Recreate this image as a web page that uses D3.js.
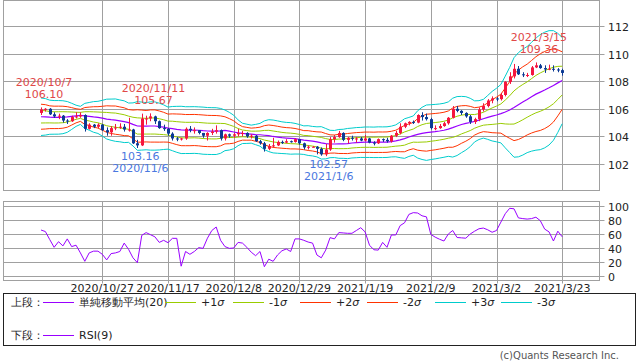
<!DOCTYPE html>
<html><head><meta charset="utf-8">
<script src="https://cdn.jsdelivr.net/npm/d3@7"></script>
<style>body{margin:0;background:#fff;} svg{display:block;font-family:"DejaVu Sans",Verdana,sans-serif;}</style>
</head><body><svg id="c" width="638" height="362"></svg>
<script>
const dates = ["2020/10/7","2020/10/8","2020/10/9","2020/10/12","2020/10/13","2020/10/14","2020/10/15","2020/10/16","2020/10/19","2020/10/20","2020/10/21","2020/10/22","2020/10/23","2020/10/26","2020/10/27","2020/10/28","2020/10/29","2020/10/30",
"2020/11/2","2020/11/3","2020/11/4","2020/11/5","2020/11/6","2020/11/9","2020/11/10","2020/11/11","2020/11/12","2020/11/13","2020/11/16","2020/11/17","2020/11/18","2020/11/19","2020/11/20","2020/11/23","2020/11/24","2020/11/25","2020/11/26","2020/11/27","2020/11/30",
"2020/12/1","2020/12/2","2020/12/3","2020/12/4","2020/12/7","2020/12/8","2020/12/9","2020/12/10","2020/12/11","2020/12/14","2020/12/15","2020/12/16","2020/12/17","2020/12/18","2020/12/21","2020/12/22","2020/12/23","2020/12/24","2020/12/25","2020/12/28","2020/12/29","2020/12/30","2020/12/31",
"2021/1/1","2021/1/4","2021/1/5","2021/1/6","2021/1/7","2021/1/8","2021/1/11","2021/1/12","2021/1/13","2021/1/14","2021/1/15","2021/1/18","2021/1/19","2021/1/20","2021/1/21","2021/1/22","2021/1/25","2021/1/26","2021/1/27","2021/1/28","2021/1/29",
"2021/2/1","2021/2/2","2021/2/3","2021/2/4","2021/2/5","2021/2/8","2021/2/9","2021/2/10","2021/2/11","2021/2/12","2021/2/15","2021/2/16","2021/2/17","2021/2/18","2021/2/19","2021/2/22","2021/2/23","2021/2/24","2021/2/25","2021/2/26",
"2021/3/1","2021/3/2","2021/3/3","2021/3/4","2021/3/5","2021/3/8","2021/3/9","2021/3/10","2021/3/11","2021/3/12","2021/3/15","2021/3/16","2021/3/17","2021/3/18","2021/3/19","2021/3/22","2021/3/23"];

const open = [105.70,105.95,106.00,105.60,105.45,105.50,105.15,105.10,105.40,105.45,105.55,104.55,104.85,104.70,104.85,104.45,104.30,104.60,
104.65,104.70,104.50,104.50,103.50,103.35,105.30,105.30,105.45,105.10,104.60,104.55,104.20,103.85,103.80,103.85,104.55,104.45,104.45,104.25,104.05,
104.25,104.35,104.45,103.85,104.15,104.05,104.15,104.25,104.25,104.00,104.05,103.65,103.50,103.10,103.30,103.35,103.60,103.55,103.65,103.60,103.80,103.50,103.20,
103.25,103.25,103.10,102.70,103.05,103.80,103.95,104.25,103.75,103.90,103.85,103.85,103.70,103.85,103.55,103.50,103.80,103.75,103.65,104.05,104.25,
104.70,104.95,105.05,105.00,105.55,105.40,105.25,104.60,104.60,104.75,104.95,105.35,106.00,105.85,105.70,105.45,105.05,105.25,105.95,106.20,
106.60,106.75,106.70,107.00,107.95,108.35,108.90,108.50,108.45,108.45,109.00,109.15,108.95,108.85,108.90,108.85,108.80];

const high = [106.10,106.05,106.05,105.75,105.65,105.55,105.25,105.50,105.75,105.75,105.60,104.95,104.90,104.95,104.90,104.65,104.75,104.90,
104.95,104.90,105.35,104.55,103.75,105.65,105.50,105.67,105.50,105.15,104.85,104.60,104.30,103.95,103.90,104.65,104.75,104.65,104.45,104.25,104.30,
104.55,104.80,104.50,104.20,104.20,104.25,104.55,104.40,104.30,104.15,104.10,103.75,103.60,103.45,103.90,103.70,103.70,103.80,103.70,103.85,103.80,103.55,103.35,
103.30,103.30,103.20,103.45,103.95,104.10,104.40,104.30,103.95,104.05,103.95,103.95,104.10,103.90,103.65,103.85,103.85,103.90,104.10,104.40,104.95,
105.00,105.10,105.15,105.60,105.75,105.65,105.35,104.80,104.90,105.05,105.40,106.20,106.20,105.90,105.75,105.55,105.35,106.10,106.40,106.70,
106.90,106.85,107.15,108.00,108.65,109.25,109.10,108.65,108.60,109.10,109.36,109.25,109.15,109.20,109.15,108.95,108.90];

const low = [105.55,105.80,105.55,105.35,105.25,105.00,104.90,105.05,105.30,105.35,104.35,104.50,104.60,104.60,104.40,104.05,104.05,104.45,
104.55,104.35,104.35,103.45,103.16,103.30,104.85,105.10,104.90,104.55,104.40,104.05,103.70,103.65,103.70,103.75,104.30,104.20,104.15,103.90,103.70,
104.10,104.20,103.70,103.70,103.90,103.90,104.00,104.00,103.90,103.85,103.60,103.40,102.90,103.00,103.20,103.30,103.45,103.50,103.55,103.55,103.40,103.05,103.05,
103.20,102.70,102.60,102.57,102.95,103.55,103.90,103.65,103.50,103.70,103.55,103.65,103.65,103.50,103.35,103.45,103.60,103.55,103.55,103.95,104.15,
104.60,104.80,104.90,104.95,105.15,105.15,104.50,104.45,104.55,104.70,104.85,105.30,105.75,105.55,105.35,104.90,104.90,105.10,105.80,106.10,
106.40,106.55,106.60,106.90,107.80,108.20,108.45,108.30,108.30,108.40,108.95,108.90,108.60,108.80,108.70,108.65,108.40];

const close = [105.95,106.00,105.60,105.45,105.50,105.15,105.10,105.40,105.45,105.55,104.55,104.85,104.70,104.85,104.45,104.30,104.60,104.65,
104.70,104.50,104.50,103.50,103.35,105.30,105.30,105.45,105.10,104.60,104.55,104.20,103.85,103.80,103.85,104.55,104.45,104.45,104.25,104.05,104.25,
104.35,104.45,103.85,104.15,104.05,104.15,104.25,104.25,104.00,104.05,103.65,103.50,103.10,103.30,103.35,103.60,103.55,103.65,103.60,103.80,103.50,103.20,103.25,
103.25,103.10,102.70,103.05,103.80,103.95,104.25,103.75,103.90,103.85,103.85,103.70,103.85,103.55,103.50,103.80,103.75,103.65,104.05,104.25,104.70,
104.95,105.05,105.00,105.55,105.40,105.25,104.60,104.60,104.75,104.95,105.35,106.00,105.85,105.70,105.45,105.05,105.25,105.95,106.20,106.60,
106.75,106.70,107.00,107.95,108.35,108.90,108.50,108.45,108.45,109.00,109.15,108.95,108.85,108.90,108.85,108.80,108.60];

const sma20 = [105.425,105.418,105.390,105.378,105.380,105.390,105.410,105.453,105.493,105.525,
105.483,105.455,105.410,105.378,105.318,105.255,105.210,105.178,105.125,105.065,
104.993,104.868,104.755,104.748,104.738,104.753,104.753,104.713,104.668,104.600,
104.565,104.513,104.470,104.455,104.455,104.463,104.445,104.415,104.393,104.385,
104.383,104.400,104.440,104.378,104.320,104.260,104.218,104.188,104.163,104.135,
104.118,104.083,104.055,103.995,103.953,103.908,103.878,103.855,103.833,103.790,
103.728,103.698,103.653,103.605,103.533,103.473,103.450,103.448,103.458,103.463,
103.483,103.520,103.548,103.565,103.578,103.578,103.570,103.580,103.578,103.585,
103.628,103.678,103.750,103.843,103.960,104.058,104.145,104.218,104.268,104.310,
104.345,104.390,104.445,104.528,104.635,104.750,104.860,104.943,105.008,105.088,
105.183,105.280,105.375,105.465,105.548,105.648,105.768,105.915,106.098,106.293,
106.485,106.670,106.873,107.063,107.210,107.360,107.520,107.690,107.878,108.045];

const sigma20 = [0.453,0.441,0.412,0.406,0.406,0.398,0.372,0.316,0.256,0.218,
0.304,0.334,0.370,0.388,0.432,0.481,0.498,0.512,0.505,0.504,
0.475,0.520,0.588,0.580,0.569,0.583,0.583,0.565,0.539,0.508,
0.534,0.555,0.571,0.565,0.565,0.564,0.565,0.569,0.566,0.566,
0.565,0.542,0.491,0.455,0.405,0.311,0.245,0.232,0.218,0.245,
0.275,0.348,0.385,0.397,0.391,0.383,0.379,0.381,0.370,0.357,
0.345,0.359,0.356,0.363,0.391,0.367,0.331,0.327,0.348,0.351,
0.364,0.361,0.364,0.363,0.368,0.368,0.368,0.371,0.370,0.370,
0.372,0.385,0.431,0.478,0.471,0.475,0.571,0.630,0.669,0.662,
0.658,0.653,0.652,0.657,0.711,0.712,0.680,0.645,0.584,0.496,
0.469,0.468,0.530,0.598,0.647,0.706,0.866,1.027,1.202,1.258,
1.279,1.282,1.314,1.354,1.390,1.397,1.381,1.324,1.196,1.041];

const rsi9 = [65.7,63.5,52,41,49,43,53,42,44,33,
21,33,35.5,35.5,31,23,32,33,35,47,
38,26,19,58,62,59,56,48,51,47.6,
53.8,53.8,14,35,31,35,40.5,39.5,54,65,
70,51,42,39.5,40,48,47,41,34,29,
35,13.3,24,21,30,36,38.6,35,53,53,
51,48.5,47,30,26,37,54.8,53,62,61.5,
61,61,65,69,63,44,37.5,37,48,41,
58.6,58.6,72,76,88,90.5,90,86,84.5,59.5,
55.5,52.5,50,60,65,55,54.5,54,60,64,
67.5,68.5,66,62.5,65,77,89,96.7,96,83,
82,81.3,82,84,79,67,63,50,64,56];

const priceTicks = [102,104,106,108,110,112];
const rsiTicks = [0,20,40,60,80,100];
const dateTicks = ["2020/10/27","2020/11/17","2020/12/8","2020/12/29","2021/1/19","2021/2/9","2021/3/2","2021/3/23"];

const highMarks = [{date:"2020/10/7", value:106.10},{date:"2020/11/11", value:105.67},{date:"2021/3/15", value:109.36}];
const lowMarks = [{date:"2020/11/6", value:103.16},{date:"2021/1/6", value:102.57}];

const bandLevels = [3,-3,2,-2,1,-1];
const bandColors = {"1":"#99cc00","2":"#ff3300","3":"#00cccc"};
const legendItems = [
  {label:"単純移動平均(20)", color:"#9900ff", sigma:false},
  {label:"+1", color:"#99cc00", sigma:true},
  {label:"-1", color:"#99cc00", sigma:true},
  {label:"+2", color:"#ff3300", sigma:true},
  {label:"-2", color:"#ff3300", sigma:true},
  {label:"+3", color:"#00cccc", sigma:true},
  {label:"-3", color:"#00cccc", sigma:true}
];

const svg = d3.select("#c");
const L = 3.5, R = 599.5;
const pTop = 0.5, pBot = 190.5, rTop = 201.5, rBot = 280.5;
const gridColor = "#a0a0a0";

const x = d3.scalePoint().domain(dates).range([41, 562.2]);
const yP = d3.scaleLinear().domain([100, 114]).range([191.6, -1.6]);
const yR = d3.scaleLinear().domain([0, 100]).range([276, 206]);

svg.append("rect").attr("width",638).attr("height",362).attr("fill","#fff");

// ---------- main panel grid ----------
const gMain = svg.append("g");
gMain.selectAll("line.h").data(priceTicks).join("line")
  .attr("x1",L).attr("x2",R+5).attr("y1",d=>Math.round(yP(d))+0.5).attr("y2",d=>Math.round(yP(d))+0.5)
  .attr("stroke",gridColor);
gMain.selectAll("line.v").data(dateTicks).join("line")
  .attr("x1",d=>Math.round(x(d))+0.5).attr("x2",d=>Math.round(x(d))+0.5).attr("y1",pTop).attr("y2",pBot)
  .attr("stroke",gridColor);
gMain.append("rect").attr("x",L).attr("y",pTop).attr("width",R-L).attr("height",pBot-pTop)
  .attr("fill","none").attr("stroke",gridColor);
gMain.selectAll("text.pl").data(priceTicks).join("text")
  .attr("x",608).attr("y",d=>Math.round(yP(d))+4.5).attr("font-size",11).attr("fill","#222")
  .text(d=>d);

svg.append("clipPath").attr("id","cp").append("rect").attr("x",L).attr("y",pTop).attr("width",R-L).attr("height",pBot-pTop);
const plot = svg.append("g").attr("clip-path","url(#cp)");

// bands
bandLevels.forEach(k=>{
  const line = d3.line().x((d,i)=>x(dates[i])).y((d,i)=>yP(sma20[i] + k*sigma20[i]));
  plot.append("path").datum(sma20).attr("d",line).attr("fill","none")
    .attr("stroke",bandColors[Math.abs(k)]).attr("stroke-width",1);
});
plot.append("path").datum(sma20)
  .attr("d",d3.line().x((d,i)=>x(dates[i])).y(d=>yP(d)))
  .attr("fill","none").attr("stroke","#9900ff").attr("stroke-width",1.2);

// candles
const upC = "#f5163f", dnC = "#0c3a94";
const cd = dates.map((d,i)=>({d, o:open[i], h:high[i], l:low[i], c:close[i]}));
const cg = plot.selectAll("g.c").data(cd).join("g");
cg.append("line")
  .attr("x1",d=>Math.round(x(d.d))+0.5).attr("x2",d=>Math.round(x(d.d))+0.5)
  .attr("y1",d=>yP(d.h)).attr("y2",d=>yP(d.l))
  .attr("stroke",d=>d.c>=d.o?upC:dnC).attr("stroke-width",1);
cg.append("rect")
  .attr("x",d=>Math.round(x(d.d))-1).attr("width",3)
  .attr("y",d=>yP(Math.max(d.o,d.c)))
  .attr("height",d=>Math.max(1, Math.abs(yP(d.o)-yP(d.c))))
  .attr("fill",d=>d.c>=d.o?upC:dnC);

// annotations
const annFont = 11;
highMarks.forEach(m=>{
  const cx = x(m.date)+3, cy = yP(m.value);
  svg.append("text").attr("x",cx).attr("y",cy-21).attr("text-anchor","middle").attr("font-size",annFont).attr("fill","#e04848").text(m.date);
  svg.append("text").attr("x",cx).attr("y",cy-9).attr("text-anchor","middle").attr("font-size",annFont).attr("fill","#e04848").text(m.value.toFixed(2));
});
lowMarks.forEach(m=>{
  const cx = x(m.date)+3, cy = yP(m.value);
  svg.append("text").attr("x",cx).attr("y",cy+12).attr("text-anchor","middle").attr("font-size",annFont).attr("fill","#4a78e0").text(m.value.toFixed(2));
  svg.append("text").attr("x",cx).attr("y",cy+24).attr("text-anchor","middle").attr("font-size",annFont).attr("fill","#4a78e0").text(m.date);
});

// ---------- RSI panel ----------
const gR = svg.append("g");
gR.selectAll("line.h").data(rsiTicks).join("line")
  .attr("x1",L).attr("x2",R+5).attr("y1",d=>Math.round(yR(d))+0.5).attr("y2",d=>Math.round(yR(d))+0.5)
  .attr("stroke",gridColor);
gR.selectAll("line.v").data(dateTicks).join("line")
  .attr("x1",d=>Math.round(x(d))+0.5).attr("x2",d=>Math.round(x(d))+0.5).attr("y1",rTop).attr("y2",rBot+3)
  .attr("stroke",gridColor);
gR.append("rect").attr("x",L).attr("y",rTop).attr("width",R-L).attr("height",rBot-rTop)
  .attr("fill","none").attr("stroke",gridColor);
gR.selectAll("text.rl").data(rsiTicks).join("text")
  .attr("x",608).attr("y",d=>Math.round(yR(d))+4.5).attr("font-size",11).attr("fill","#222")
  .text(d=>d);
gR.append("path").datum(rsi9)
  .attr("d",d3.line().x((d,i)=>x(dates[i])).y(d=>yR(d)))
  .attr("fill","none").attr("stroke","#9900ff").attr("stroke-width",1);

// date labels
svg.selectAll("text.xl").data(dateTicks).join("text")
  .attr("x",d=>x(d)).attr("y",292).attr("text-anchor","middle").attr("font-size",11).attr("fill","#222")
  .text(d=>d);

// ---------- legend ----------
const lg = svg.append("g");
lg.append("rect").attr("x",3.5).attr("y",293.5).attr("width",632).attr("height",52).attr("fill","none").attr("stroke","#222");
const row1 = 302, row2 = 335;
lg.append("text").attr("x",11).attr("y",row1+4).attr("font-size",11).attr("fill","#222").text("上段：");
lg.append("text").attr("x",11).attr("y",row2+4).attr("font-size",11).attr("fill","#222").text("下段：");
const itemX = [43,165,233,300,367,435,501];
legendItems.forEach((it,i)=>{
  const x0 = itemX[i];
  lg.append("line").attr("x1",x0).attr("x2",x0+31).attr("y1",row1+0.5).attr("y2",row1+0.5).attr("stroke",it.color);
  const t = lg.append("text").attr("x",x0+36).attr("y",row1+4).attr("font-size",11).attr("fill","#222");
  t.append("tspan").text(it.label);
  if (it.sigma) t.append("tspan").attr("font-style","italic").text("σ");
});
lg.append("line").attr("x1",43).attr("x2",74).attr("y1",row2+0.5).attr("y2",row2+0.5).attr("stroke","#9900ff");
lg.append("text").attr("x",79).attr("y",row2+4).attr("font-size",11).attr("fill","#222").text("RSI(9)");

svg.append("text").attr("x",619).attr("y",359).attr("text-anchor","end").attr("font-size",10).attr("fill","#555")
  .text("(c)Quants Research Inc.");
</script>
</body></html>
